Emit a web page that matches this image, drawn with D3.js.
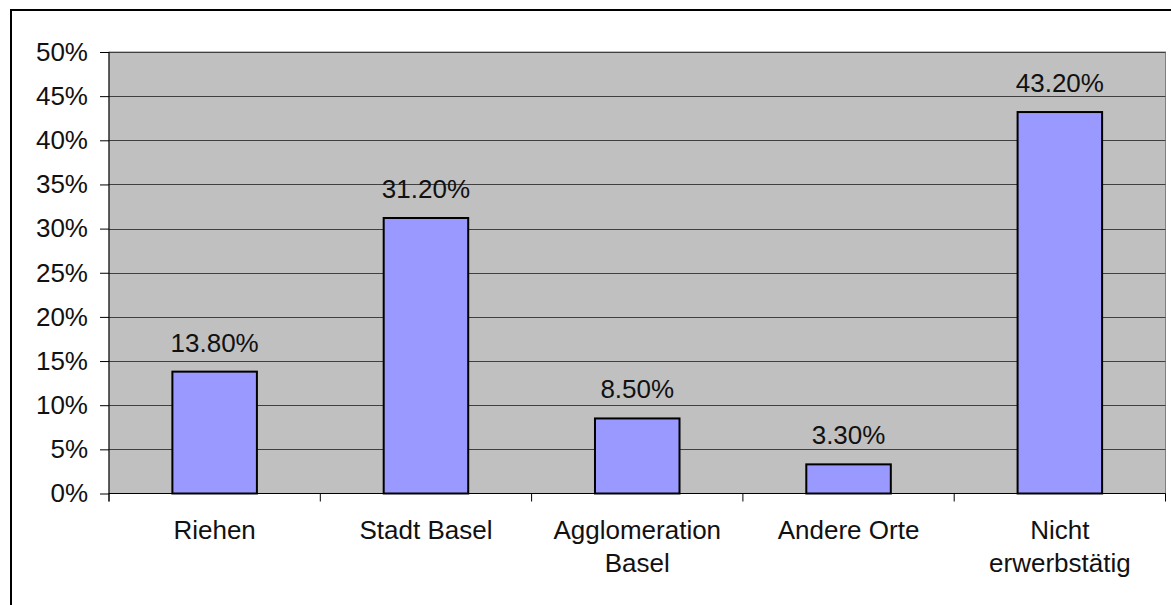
<!DOCTYPE html>
<html>
<head>
<meta charset="utf-8">
<script src="https://cdn.jsdelivr.net/npm/d3@7"></script>
<style>
  body { margin: 0; background: #fff; }
  svg text { font-family: "Liberation Sans", Arial, sans-serif; fill: #111; }
</style>
</head>
<body>
<div id="chart"></div>
<script>
// values
var categories = [["Riehen"], ["Stadt Basel"], ["Agglomeration", "Basel"], ["Andere Orte"], ["Nicht", "erwerbstätig"]];
var values = [13.8, 31.2, 8.5, 3.3, 43.2];
var yTicks = [0, 5, 10, 15, 20, 25, 30, 35, 40, 45, 50];

var width = 1171, height = 605;
var plot = {left: 109, top: 52, right: 1165.5, bottom: 493.5};
var fontSize = 26;

var svg = d3.select("#chart").append("svg")
    .attr("width", width)
    .attr("height", height);

// outer frame (cut off at right/bottom as in the picture)
svg.append("rect")
    .attr("x", 11).attr("y", 10)
    .attr("width", 1170).attr("height", 610)
    .attr("fill", "none")
    .attr("stroke", "#000")
    .attr("stroke-width", 2);

var x = d3.scaleBand()
    .domain(d3.range(categories.length))
    .range([plot.left, plot.right])
    .paddingInner(0.6)
    .paddingOuter(0.3);

var xOuter = d3.scaleBand()
    .domain(d3.range(categories.length))
    .range([plot.left, plot.right]);

var y = d3.scaleLinear()
    .domain([0, 50])
    .range([plot.bottom, plot.top]);

// plot background
svg.append("rect")
    .attr("x", plot.left).attr("y", plot.top)
    .attr("width", plot.right - plot.left)
    .attr("height", plot.bottom - plot.top)
    .attr("fill", "#c0c0c0")
    .attr("stroke", "#808080")
    .attr("stroke-width", 1);

// gridlines
svg.append("g")
    .selectAll("line")
    .data(yTicks.filter(function (d) { return d > 0; }))
    .enter().append("line")
    .attr("x1", plot.left).attr("x2", plot.right)
    .attr("y1", function (d) { return Math.round(y(d)) + 0.5; })
    .attr("y2", function (d) { return Math.round(y(d)) + 0.5; })
    .attr("stroke", "#404040")
    .attr("stroke-width", 1);

// y axis
var yAxis = d3.axisLeft(y)
    .tickValues(yTicks)
    .tickSize(9)
    .tickPadding(12)
    .tickFormat(function (d) { return d + "%"; });

var gy = svg.append("g")
    .attr("transform", "translate(" + plot.left + ",0)")
    .call(yAxis)
    .attr("font-size", fontSize)
    .attr("font-family", "Liberation Sans, Arial, sans-serif");
gy.select(".domain").attr("stroke", "#000").attr("d", "M0," + plot.top + "V" + (plot.bottom + 8));
gy.selectAll(".tick line").attr("stroke", "#000");
gy.selectAll(".tick text").attr("fill", "#111");

// x axis line and category ticks
svg.append("line")
    .attr("x1", plot.left).attr("x2", plot.right)
    .attr("y1", plot.bottom).attr("y2", plot.bottom)
    .attr("stroke", "#000");
svg.append("g")
    .selectAll("line")
    .data(d3.range(categories.length + 1))
    .enter().append("line")
    .attr("x1", function (i) { return i < categories.length ? xOuter(i) : plot.right; })
    .attr("x2", function (i) { return i < categories.length ? xOuter(i) : plot.right; })
    .attr("y1", plot.bottom)
    .attr("y2", plot.bottom + 8)
    .attr("stroke", "#000");

// bars
svg.append("g")
    .selectAll("rect")
    .data(values)
    .enter().append("rect")
    .attr("x", function (d, i) { return x(i); })
    .attr("y", function (d) { return y(d); })
    .attr("width", x.bandwidth())
    .attr("height", function (d) { return y(0) - y(d); })
    .attr("fill", "#9999ff")
    .attr("stroke", "#000")
    .attr("stroke-width", 2);

// value labels
svg.append("g")
    .selectAll("text")
    .data(values)
    .enter().append("text")
    .attr("x", function (d, i) { return x(i) + x.bandwidth() / 2; })
    .attr("y", function (d) { return y(d) - 20; })
    .attr("text-anchor", "middle")
    .attr("font-size", fontSize)
    .text(function (d) { return d.toFixed(2) + "%"; });

// category labels
var cat = svg.append("g")
    .selectAll("text")
    .data(categories)
    .enter().append("text")
    .attr("x", function (d, i) { return x(i) + x.bandwidth() / 2; })
    .attr("y", 539)
    .attr("text-anchor", "middle")
    .attr("font-size", fontSize);
cat.selectAll("tspan")
    .data(function (d) { return d; })
    .enter().append("tspan")
    .attr("x", function () { return d3.select(this.parentNode).attr("x"); })
    .attr("dy", function (d, j) { return j === 0 ? 0 : 33; })
    .text(function (d) { return d; });
</script>
</body>
</html>
